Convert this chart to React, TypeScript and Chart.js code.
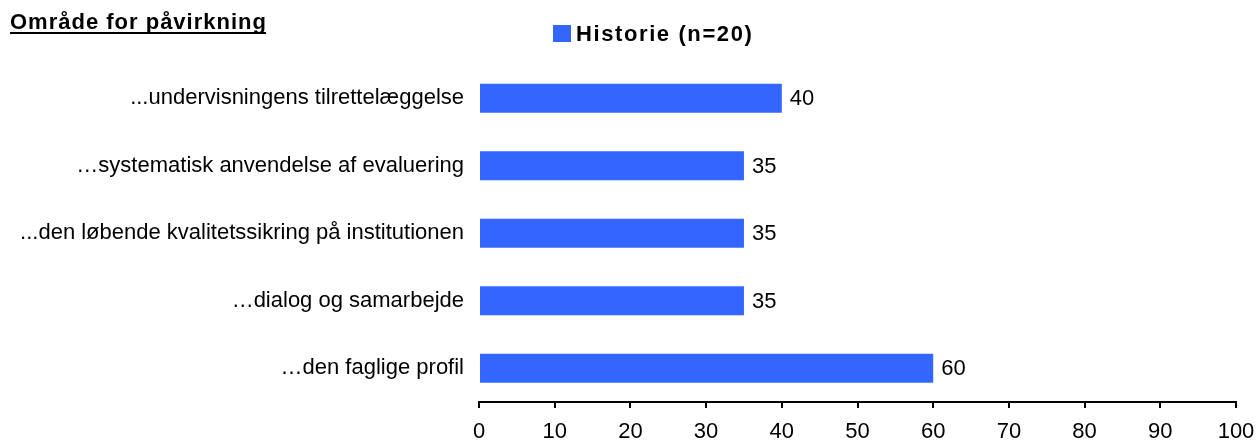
import React, { useEffect, useRef } from "react";
import { Chart, registerables } from "chart.js";

Chart.register(...registerables);

const chartTitle = "Område for påvirkning";
const seriesLabel = "Historie (n=20)";
const categories = [
  "...undervisningens tilrettelæggelse",
  "…systematisk anvendelse af evaluering",
  "...den løbende kvalitetssikring på institutionen",
  "…dialog og samarbejde",
  "…den faglige profil",
];
const values = [40, 35, 35, 35, 60];
const xTicks = [0, 10, 20, 30, 40, 50, 60, 70, 80, 90, 100];

const BAR_COLOR = "#3366FF";
const FONT = "'Liberation Sans', Arial, sans-serif";

const overlayPlugin = {
  id: "overlay",
  afterDatasetsDraw(chart: any) {
    const ctx = chart.ctx;
    ctx.save();
    // value labels
    const meta = chart.getDatasetMeta(0);
    ctx.font = `22px ${FONT}`;
    ctx.fillStyle = "#000";
    ctx.textAlign = "left";
    ctx.textBaseline = "middle";
    meta.data.forEach((bar: any, i: number) => {
      ctx.fillText(String(values[i]), bar.x + 8, bar.y + 1);
    });
    // title
    ctx.font = `bold 22px ${FONT}`;
    ctx.textBaseline = "alphabetic";
    (ctx as any).letterSpacing = "1px";
    ctx.fillText(chartTitle, 10, 29);
    const w = ctx.measureText(chartTitle).width;
    ctx.fillRect(10, 32, w - 1, 2);
    // legend
    ctx.fillStyle = BAR_COLOR;
    ctx.fillRect(553, 25, 18, 17);
    ctx.fillStyle = "#000";
    (ctx as any).letterSpacing = "1.6px";
    ctx.fillText(seriesLabel, 576, 41);
    (ctx as any).letterSpacing = "0px";
    ctx.restore();
  },
};

export default function App() {
  const ref = useRef<HTMLCanvasElement>(null);
  useEffect(() => {
    if (!ref.current) return;
    const chart = new Chart(ref.current, {
      type: "bar",
      data: {
        labels: categories,
        datasets: [
          {
            label: seriesLabel,
            data: values,
            backgroundColor: BAR_COLOR,
            borderWidth: 0,
            barPercentage: 0.43,
            categoryPercentage: 1,
          },
        ],
      },
      options: {
        indexAxis: "y",
        animation: false,
        responsive: false,
        maintainAspectRatio: false,
        layout: { padding: { top: 64.5, right: 20, left: 0, bottom: 0 } },
        plugins: {
          legend: { display: false },
          title: { display: false },
          tooltip: { enabled: false },
        },
        scales: {
          x: {
            min: 0,
            max: 100,
            afterBuildTicks: (scale: any) => {
              scale.ticks = xTicks.map((v) => ({ value: v }));
            },
            afterFit: (scale: any) => {
              scale.height = 41;
              scale.paddingRight = 0;
              scale.paddingLeft = 0;
            },
            grid: {
              drawOnChartArea: false,
              drawTicks: true,
              tickLength: 6,
              color: "#000",
              lineWidth: 2,
            },
            border: { display: true, color: "#000", width: 2 },
            ticks: {
              color: "#000",
              font: { family: FONT, size: 22 },
              padding: 11,
              maxRotation: 0,
              autoSkip: false,
            },
          },
          y: {
            afterFit: (scale: any) => {
              scale.width = 479;
            },
            grid: { display: false, drawTicks: false },
            border: { display: false },
            ticks: {
              color: "#000",
              font: { family: FONT, size: 22 },
              padding: 15,
              autoSkip: false,
            },
          },
        },
      },
      plugins: [overlayPlugin],
    });
    return () => chart.destroy();
  }, []);
  return (
    <div style={{ position: "fixed", left: 0, top: 0, width: 1256, height: 443, background: "#fff" }}>
      <canvas ref={ref} width={1256} height={443} style={{ display: "block" }} />
    </div>
  );
}
